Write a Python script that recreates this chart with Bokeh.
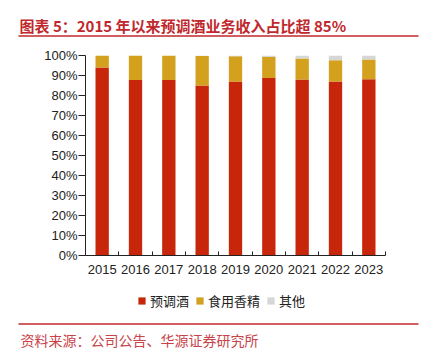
from bokeh.plotting import figure
from bokeh.layouts import column
from bokeh.models import (ColumnDataSource, FixedTicker, Legend, LegendItem,
                          NumeralTickFormatter, Range1d)
from bokeh.core.properties import value
from bokeh.embed import file_html
from bokeh.resources import INLINE

years = ["2015", "2016", "2017", "2018", "2019", "2020", "2021", "2022", "2023"]
premix = [0.94, 0.878, 0.878, 0.85, 0.87, 0.888, 0.88, 0.87, 0.881]
flavor = [0.06, 0.122, 0.122, 0.148, 0.126, 0.104, 0.105, 0.106, 0.099]
other = [0.0, 0.0, 0.0, 0.002, 0.004, 0.008, 0.015, 0.024, 0.02]
series = ["预调酒", "食用香精", "其他"]
colors = ["#C8260A", "#D4A11E", "#D6D6D6"]
title_text = "图表 5：2015 年以来预调酒业务收入占比超 85%"
source_text = "资料来源：公司公告、华源证券研究所"

W = 423
CJK = "Noto Sans CJK SC"
font = "Liberation Sans"
RED = "#C0282D"

def blank(h):
    f = figure(width=W, height=h, output_backend="svg", toolbar_location=None,
               x_range=Range1d(0, W), y_range=Range1d(h, 0),
               min_border=0, min_border_left=0, min_border_right=0,
               min_border_top=0, min_border_bottom=0)
    f.axis.visible = False
    f.grid.visible = False
    f.outline_line_color = None
    f.frame_align = False
    return f

# header
HH = 45
head = blank(HH)
head.text(x=[19], y=[25], text=[title_text], text_font=value(CJK),
          text_font_size="15px", text_font_style="bold", text_color=RED,
          text_baseline="middle", text_align="left")
head.segment(x0=[18], y0=[35.5], x1=[418], y1=[35.5], line_color=RED, line_width=1.5)

# main chart
xs = [i + 0.5 for i in range(len(years))]
src = ColumnDataSource(dict(x=xs, premix=premix, flavor=flavor, other=other))
p = figure(width=W, height=245, output_backend="svg", toolbar_location=None,
           x_range=(0, len(years)), y_range=(0, 1),
           min_border_left=85, min_border_right=38, min_border_top=10,
           min_border_bottom=35)
p.frame_align = False
p.outline_line_color = None
p.xgrid.visible = False
p.ygrid.visible = False
p.vbar_stack(["premix", "flavor", "other"], x="x", width=0.4, source=src,
             color=colors, line_color=None)

p.yaxis.ticker = FixedTicker(ticks=[i / 10 for i in range(11)])
p.yaxis.formatter = NumeralTickFormatter(format="0%")
p.yaxis.major_tick_in = 0
p.yaxis.major_tick_out = 7
p.yaxis.minor_tick_line_color = None
p.yaxis.axis_line_color = "#222222"
p.yaxis.major_tick_line_color = "#222222"
p.yaxis.major_label_text_font = font
p.yaxis.major_label_text_font_size = "13px"
p.yaxis.major_label_text_color = "#222222"
p.yaxis.major_label_standoff = 1

p.xaxis.ticker = FixedTicker(ticks=xs, minor_ticks=list(range(len(years) + 1)))
p.xaxis.major_label_overrides = {x: y for x, y in zip(xs, years)}
p.xaxis.major_tick_in = 0
p.xaxis.major_tick_out = 0
p.xaxis.minor_tick_in = 4
p.xaxis.minor_tick_out = 0
p.xaxis.minor_tick_line_color = "#222222"
p.xaxis.axis_line_color = "#222222"
p.xaxis.major_label_text_font = font
p.xaxis.major_label_text_font_size = "13px"
p.xaxis.major_label_text_color = "#222222"
p.xaxis.major_label_standoff = 9

# footer with legend, rule and source
FH = 61
foot = blank(FH)
nan = float("nan")
items = []
for s, c in zip(series, colors):
    r = foot.quad(left=[nan], right=[nan], top=[nan], bottom=[nan],
                  fill_color=c, line_color=None)
    items.append(LegendItem(label=s, renderers=[r]))
legend = Legend(items=items, orientation="horizontal", location=(137, 41),
                glyph_width=9, glyph_height=9, label_standoff=4, spacing=6,
                padding=0, margin=0, border_line_color=None,
                background_fill_alpha=0,
                label_text_font=CJK, label_text_font_size="13px",
                label_text_color="#222222", label_height=16)
foot.add_layout(legend, "center")
foot.segment(x0=[18], y0=[33.5], x1=[418], y1=[33.5], line_color=RED, line_width=1.5)
foot.text(x=[20], y=[49], text=[source_text], text_font=value(CJK),
          text_font_size="14px", text_color="#C8434A",
          text_baseline="middle", text_align="left")

layout = column(head, p, foot, spacing=0)
open("out.html", "w").write(file_html(layout, INLINE))
